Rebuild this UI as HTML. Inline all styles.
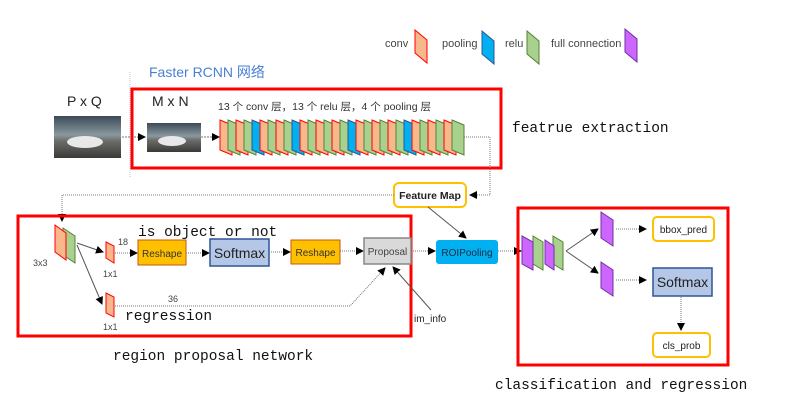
<!DOCTYPE html>
<html><head><meta charset="utf-8"><style>
html,body{margin:0;padding:0;background:#fff;width:791px;height:412px;overflow:hidden}
svg{display:block}
.s{font-family:"Liberation Sans","Noto Sans CJK SC",sans-serif}
.m{font-family:"Liberation Mono",monospace;font-size:14.5px;fill:#111}
</style></head><body>
<svg width="791" height="412" viewBox="0 0 791 412" xmlns="http://www.w3.org/2000/svg">
<defs>
<marker id="a" markerWidth="8" markerHeight="8" refX="7" refY="4" orient="auto" markerUnits="userSpaceOnUse"><path d="M0,0 L8,4 L0,8z" fill="#000"/></marker>
<linearGradient id="img" x1="0" y1="0" x2="0" y2="1"><stop offset="0" stop-color="#3b4a55"/><stop offset="0.45" stop-color="#8a98a0"/><stop offset="0.6" stop-color="#6b6b68"/><stop offset="1" stop-color="#3a3a38"/></linearGradient>
</defs>
<!-- legend -->
<g class="s" font-size="11" fill="#444">
<text x="385" y="47">conv</text>
<polygon points="415,30 427,40 427,63 415,53" fill="#f8b88b" stroke="#f00" stroke-width="1"/>
<text x="442" y="47">pooling</text>
<polygon points="482,31 494,41 494,64 482,54" fill="#00b0f0" stroke="#2f5597" stroke-width="1"/>
<text x="505" y="47">relu</text>
<polygon points="527,31 539,41 539,64 527,54" fill="#a9d18e" stroke="#548235" stroke-width="1"/>
<text x="551" y="47">full connection</text>
<polygon points="625,29 637,39 637,62 625,52" fill="#cc66ff" stroke="#7030a0" stroke-width="1"/>
</g>
<text x="149" y="77" class="s" font-size="14" fill="#4a7fd4">Faster RCNN 网络</text>
<line x1="130" y1="72" x2="130" y2="178" stroke="#b4c7e7" stroke-dasharray="1,1"/>
<text x="67" y="106" class="s" font-size="14" fill="#222">P x Q</text>
<rect x="54" y="116" width="67" height="42" fill="url(#img)"/>
<ellipse cx="85" cy="142" rx="18" ry="6" fill="#e8e8e8"/>
<line x1="122" y1="137" x2="145" y2="137" stroke="#777" stroke-dasharray="2,1" marker-end="url(#a)"/>
<rect x="132" y="89" width="369" height="79" fill="none" stroke="#f00" stroke-width="3"/>
<text x="152" y="106" class="s" font-size="14" fill="#222">M x N</text>
<rect x="147" y="123" width="54" height="29" fill="url(#img)"/>
<ellipse cx="172" cy="141" rx="14" ry="5" fill="#e8e8e8"/>
<line x1="201" y1="137" x2="219" y2="137" stroke="#777" stroke-dasharray="2,1" marker-end="url(#a)"/>
<text x="218" y="110" class="s" font-size="10.5" fill="#333">13 个 conv 层，13 个 relu 层，4 个 pooling 层</text>
<g id="layers" stroke-width="1"></g>
<text x="512" y="132" class="m">featrue extraction</text>
<polyline points="464,137 490,137 490,195 470,195" fill="none" stroke="#777" stroke-dasharray="1,1" marker-end="url(#a)"/>
<rect x="394" y="183" width="72" height="24" rx="5" fill="#fff" stroke="#ffc000" stroke-width="2"/>
<text x="430" y="199" class="s" font-size="10.5" font-weight="bold" text-anchor="middle" fill="#222">Feature Map</text>
<polyline points="394,195 62,195 62,221" fill="none" stroke="#777" stroke-dasharray="1,1" marker-end="url(#a)"/>
<line x1="428" y1="207" x2="466" y2="238" stroke="#555" marker-end="url(#a)"/>
<!-- RPN -->
<rect x="18" y="216" width="393" height="120" fill="none" stroke="#f00" stroke-width="3"/>
<polygon points="63,228 75,236 75,263 63,255" fill="#a9d18e" stroke="#548235"/>
<polygon points="55,225 66,233 66,260 55,252" fill="#f8b88b" stroke="#f00"/>
<text x="33" y="266" class="s" font-size="9" fill="#444">3x3</text>
<line x1="77" y1="243" x2="103" y2="252" stroke="#555" marker-end="url(#a)"/>
<line x1="77" y1="245" x2="102" y2="304" stroke="#555" marker-end="url(#a)"/>
<polygon points="106,242 114,246 114,263 106,258" fill="#f8b88b" stroke="#f00"/>
<text x="103" y="277" class="s" font-size="9" fill="#444">1x1</text>
<polygon points="106,293 114,297 114,317 106,313" fill="#f8b88b" stroke="#f00"/>
<text x="103" y="330" class="s" font-size="9" fill="#444">1x1</text>
<text x="118" y="245" class="s" font-size="9" fill="#444">18</text>
<text x="168" y="302" class="s" font-size="9" fill="#444">36</text>
<text x="138" y="236" class="m" font-size="14">is object or not</text>
<text x="125" y="320" class="m" font-size="14">regression</text>
<line x1="115" y1="253" x2="137" y2="253" stroke="#777" stroke-dasharray="1,1" marker-end="url(#a)"/>
<rect x="138" y="240" width="48" height="25" fill="#ffc000" stroke="#c55a11"/>
<text x="162" y="257" class="s" font-size="10" text-anchor="middle" fill="#333">Reshape</text>
<line x1="186" y1="253" x2="209" y2="253" stroke="#777" stroke-dasharray="1,1" marker-end="url(#a)"/>
<rect x="210" y="239" width="59" height="27" fill="#b4c7e7" stroke="#2f5597" stroke-width="1.5"/>
<text x="239.5" y="258" class="s" font-size="14" text-anchor="middle" fill="#222">Softmax</text>
<line x1="269" y1="252" x2="290" y2="252" stroke="#777" stroke-dasharray="1,1" marker-end="url(#a)"/>
<rect x="291" y="240" width="49" height="24" fill="#ffc000" stroke="#c55a11"/>
<text x="315.5" y="256" class="s" font-size="10" text-anchor="middle" fill="#333">Reshape</text>
<line x1="340" y1="251" x2="363" y2="251" stroke="#777" stroke-dasharray="1,1" marker-end="url(#a)"/>
<rect x="364" y="238" width="47" height="26" fill="#d9d9d9" stroke="#888" stroke-width="1.5"/>
<text x="387.5" y="255" class="s" font-size="10" text-anchor="middle" fill="#444">Proposal</text>
<polyline points="115,306 350,306 385,268" fill="none" stroke="#777" stroke-dasharray="1,1" marker-end="url(#a)"/>
<line x1="431" y1="310" x2="393" y2="267" stroke="#555" marker-end="url(#a)"/>
<text x="414" y="322" class="s" font-size="10" fill="#222">im_info</text>
<line x1="411" y1="251" x2="435" y2="251" stroke="#777" stroke-dasharray="1,1" marker-end="url(#a)"/>
<rect x="436" y="240" width="62" height="24" rx="3" fill="#00b0f0"/>
<text x="467" y="256" class="s" font-size="10" text-anchor="middle" fill="#1a2a40">ROIPooling</text>
<line x1="498" y1="251" x2="521" y2="251" stroke="#777" stroke-dasharray="1,1" marker-end="url(#a)"/>
<text x="113" y="360" class="m">region proposal network</text>
<!-- classification -->
<rect x="518" y="208" width="210" height="157" fill="none" stroke="#f00" stroke-width="3"/>
<polygon points="553,236 563,242 563,270 553,264" fill="#a9d18e" stroke="#548235"/>
<polygon points="545,240 554,246 554,270 545,264" fill="#cc66ff" stroke="#7030a0"/>
<polygon points="533,236 543,242 543,270 533,264" fill="#a9d18e" stroke="#548235"/>
<polygon points="522,236 533,242 533,270 522,264" fill="#cc66ff" stroke="#7030a0"/>
<line x1="566" y1="251" x2="598" y2="229" stroke="#555" marker-end="url(#a)"/>
<line x1="566" y1="251" x2="598" y2="273" stroke="#555" marker-end="url(#a)"/>
<polygon points="601,212 613,220 613,246 601,238" fill="#cc66ff" stroke="#7030a0"/>
<polygon points="601,262 613,270 613,296 601,288" fill="#cc66ff" stroke="#7030a0"/>
<line x1="616" y1="229" x2="646" y2="229" stroke="#777" stroke-dasharray="1,1" marker-end="url(#a)"/>
<line x1="616" y1="280" x2="646" y2="280" stroke="#777" stroke-dasharray="1,1" marker-end="url(#a)"/>
<rect x="653" y="217" width="61" height="24" rx="4" fill="#fff" stroke="#ffc000" stroke-width="2"/>
<text x="683.5" y="233" class="s" font-size="10" text-anchor="middle" fill="#222">bbox_pred</text>
<rect x="653" y="268" width="59" height="28" fill="#b4c7e7" stroke="#2f5597" stroke-width="1.5"/>
<text x="682.5" y="287" class="s" font-size="14" text-anchor="middle" fill="#222">Softmax</text>
<line x1="681" y1="297" x2="681" y2="330" stroke="#777" stroke-dasharray="1,1" marker-end="url(#a)"/>
<rect x="653" y="333" width="57" height="24" rx="4" fill="#fff" stroke="#ffc000" stroke-width="2"/>
<text x="681.5" y="349" class="s" font-size="10" text-anchor="middle" fill="#222">cls_prob</text>
<text x="495" y="389" class="m">classification and regression</text>
</svg>
<script>
(function(){
var seq="OGOGBOGOGBOGOGOGBOGOGOGBOGOGOG".split("");
var g=document.getElementById("layers");
var col={O:["#f8b88b","#f00"],G:["#a9d18e","#548235"],B:["#00b0f0","#2f5597"]};
for(var i=0;i<seq.length;i++){
 var x=220+i*8.0,c=col[seq[i]];
 var p=document.createElementNS("http://www.w3.org/2000/svg","polygon");
 p.setAttribute("points",x+",120 "+(x+12)+",125 "+(x+12)+",155 "+x+",150");
 p.setAttribute("fill",c[0]);p.setAttribute("stroke",c[1]);
 g.appendChild(p);
}
})();
</script>
</body></html>
